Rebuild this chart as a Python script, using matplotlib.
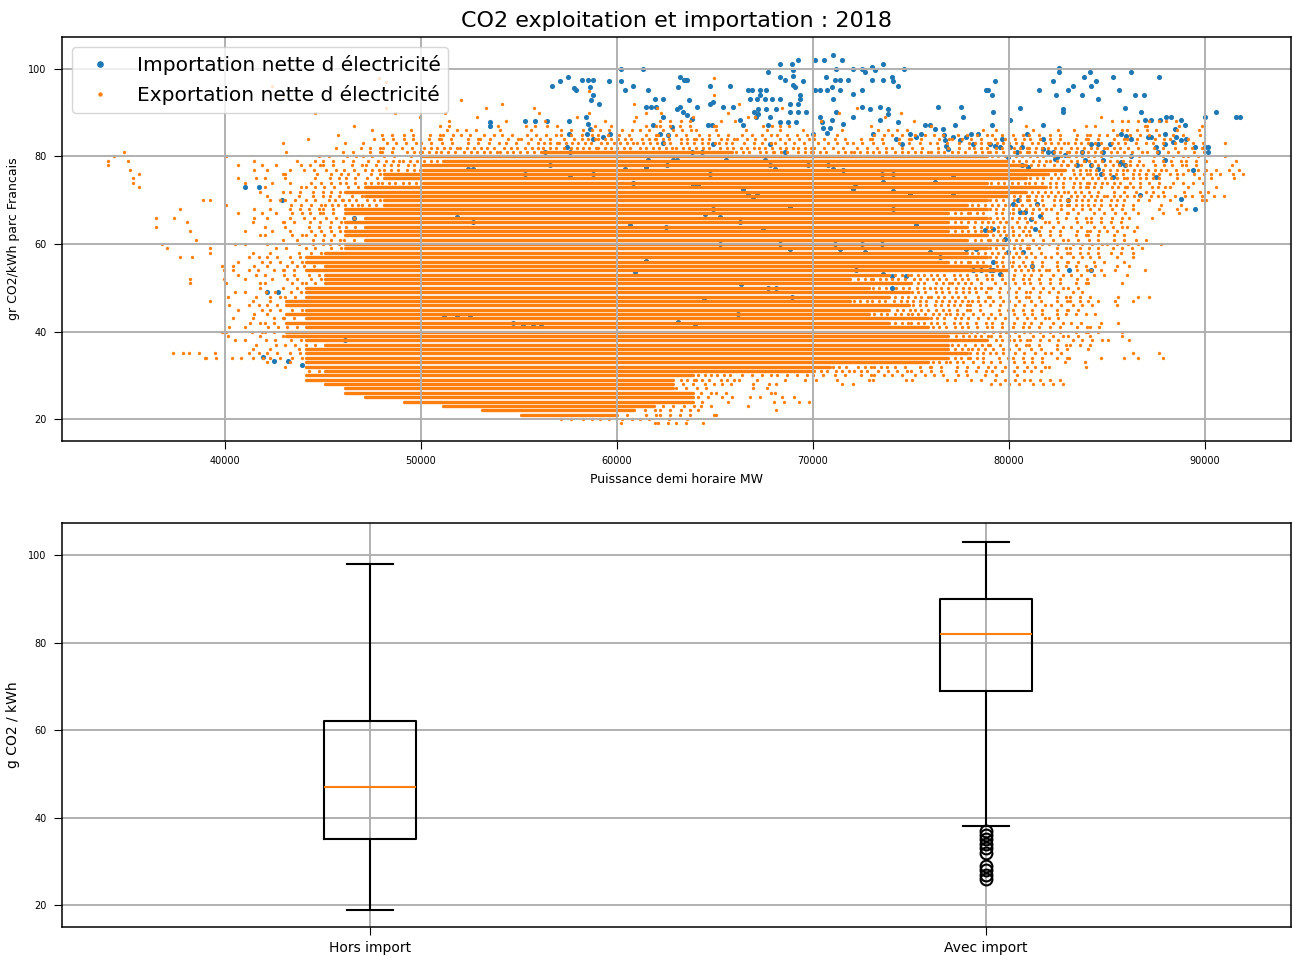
import matplotlib
matplotlib.use("Agg")
import matplotlib.pyplot as plt

C_IMP = "#1f77b4"
C_EXP = "#ff7f0e"

# orange cloud, read row by row: y -> "xk0-xk1:code" (x in thousands of MW)
# code = number of points per 1000 MW, "#" = continuous streak of points
ORANGE_ROWS = [
    (98, "47-48:1 64-65:1"),
    (97, "48-49:1"),
    (96, "42-43:1"),
    (95, "58-59:1"),
    (94, "42-43:1 64-65:1"),
    (93, "43-44:1 52-53:1"),
    (92, "54-55:1 60-61:1 66-67:1"),
    (91, "48-49:1 53-54:1 55-56:1 62-63:1 68-69:1 72-73:1"),
    (90, "44-45:1 48-49:1 51-52:1 56-57:1 58-59:1 61-63:1 65-66:1 71-72:1 74-75:1"),
    (89, "49-50:1 52-53:1 57-58:1 60-61:1 63-64:1 66-68:1 73-74:1 84-85:1"),
    (88, "51-52:1 54-55:1 56-57:1 59-61:1 62-64:2 65-67:1 70-71:1 75-76:1 85-89:2"),
    (87, "46-47:1 50-52:1 53-54:1 55-57:2 58-60:1 61-64:2 64-66:1 67-69:2 72-73:1 76-77:1 80-81:1 83-85:1 86-90:1"),
    (86, "47-48:1 49-50:1 51-53:2 54-56:1 57-64:2 64-70:1 71-72:1 73-75:2 78-80:1 81-84:1 85-88:2 88-90:1"),
    (85, "45-46:1 48-70:2 70-72:1 73-89:2 89-90:1"),
    (84, "44-45:1 47-48:1 48-58:2 58-66:3 66-88:2 88-90:1"),
    (83, "42-43:1 46-48:1 48-56:2 56-66:3 66-78:2 78-86:3 86-90:2 91-92:1"),
    (82, "45-47:1 47-50:2 50-70:3 70-78:2 78-86:3 86-90:2"),
    (81, "34-35:1 43-44:1 46-49:2 49-56:3 56-66:# 66-86:3 86-90:2"),
    (80, "34-35:1 40-41:1 44-46:1 46-50:2 50-79:# 79-85:3 85-90:2 91-92:1"),
    (79, "34-36:1 41-42:1 43-45:1 45-48:2 48-51:3 51-80:# 80-86:3 86-90:2 90-92:1"),
    (78, "34-35:1 40-44:1 44-48:2 48-50:3 50-81:# 81-87:3 87-90:2 91-92:1"),
    (77, "35-36:1 41-44:1 44-47:2 47-50:3 50-83:# 83-88:3 88-92:2"),
    (76, "35-36:1 42-45:1 45-48:2 48-82:# 82-89:3 89-92:2"),
    (75, "35-36:1 40-45:1 45-48:2 48-81:# 81-88:3 88-92:1"),
    (74, "35-36:1 41-44:1 44-47:2 47-50:3 50-79:# 79-86:3 86-90:2"),
    (73, "35-36:1 42-44:1 44-47:2 47-82:# 82-88:3 88-91:1"),
    (72, "41-43:1 43-46:2 46-81:# 81-84:3 84-88:2 88-91:1"),
    (71, "42-44:1 44-47:2 47-80:# 80-88:3 88-91:2"),
    (70, "38-40:1 42-45:2 45-48:3 48-79:# 79-86:3 86-91:1"),
    (69, "40-41:1 43-45:2 45-48:3 48-78:# 78-86:3 86-89:1"),
    (68, "37-38:1 41-43:1 43-46:2 46-79:# 79-82:3 82-86:2 86-90:1"),
    (67, "40-43:1 43-46:2 46-77:# 77-80:3 80-86:2 86-89:1"),
    (66, "36-38:1 41-44:1 44-47:2 47-79:# 79-81:3 81-86:2 86-88:1"),
    (65, "38-39:1 41-43:1 43-46:2 46-77:# 77-80:3 80-86:2"),
    (64, "36-37:1 42-44:1 44-47:2 47-78:# 78-81:3 81-87:2"),
    (63, "38-39:1 41-44:1 44-46:2 46-77:# 77-80:3 80-86:2 86-87:1"),
    (62, "41-43:1 43-46:2 46-79:# 79-81:3 81-86:2"),
    (61, "38-39:1 42-44:1 44-47:2 47-78:# 78-81:3 81-87:2"),
    (60, "36-37:1 40-44:1 44-46:2 46-80:# 80-82:3 82-87:2 87-88:1"),
    (59, "37-38:1 39-40:1 42-44:1 44-46:2 46-79:# 79-81:3 81-87:2"),
    (58, "39-40:1 41-44:1 44-45:2 45-78:# 78-81:3 81-86:2 86-87:1"),
    (57, "37-39:1 41-44:2 44-79:# 79-81:3 81-85:2 85-87:1"),
    (56, "40-42:1 42-44:2 44-77:# 77-80:3 80-85:2 85-86:1"),
    (55, "39-43:1 43-45:2 45-79:# 79-81:3 81-84:2 84-87:1"),
    (54, "39-41:1 41-44:2 44-80:# 80-82:3 82-85:2 85-87:1"),
    (53, "40-43:1 43-45:2 45-74:# 74-78:3 78-85:2 86-87:1"),
    (52, "38-40:1 41-43:1 43-45:2 45-72:# 72-78:3 78-84:2"),
    (51, "38-39:1 40-43:1 43-45:2 45-75:# 75-78:3 78-84:2 84-86:1"),
    (50, "41-44:1 44-73:# 73-79:3 79-84:2"),
    (49, "40-42:1 42-44:2 44-75:# 75-78:3 78-84:2"),
    (48, "40-42:1 42-44:2 44-74:# 74-78:3 78-84:2 84-88:1"),
    (47, "39-40:1 41-43:1 43-72:# 72-79:3 79-85:2 85-87:1"),
    (46, "40-41:1 41-43:2 43-75:# 75-78:3 78-84:2 84-86:1"),
    (45, "40-42:1 42-44:2 44-74:# 74-77:3 77-84:2"),
    (44, "41-43:1 43-73:# 73-78:3 78-84:2 84-85:1"),
    (43, "40-42:1 42-44:2 44-76:# 76-78:3 78-83:2"),
    (42, "41-43:2 43-74:# 74-78:3 78-84:2 84-86:1"),
    (41, "40-42:1 42-44:2 44-76:# 76-78:3 78-85:2"),
    (40, "39-41:1 41-43:2 43-78:# 78-80:3 80-85:2 85-86:1"),
    (39, "40-43:1 43-77:# 77-79:3 79-84:2 84-86:1"),
    (38, "40-42:1 42-44:2 44-79:# 79-81:3 81-85:2 85-87:1"),
    (37, "41-43:1 43-45:2 45-77:# 77-79:3 79-84:2 84-85:1"),
    (36, "41-44:1 44-77:# 77-79:3 79-83:2 84-85:1"),
    (35, "37-39:2 39-40:1 41-44:2 44-78:# 78-80:3 80-83:2 86-88:1"),
    (34, "38-39:1 39-44:2 44-77:# 77-79:3 79-83:2 83-88:1"),
    (33, "42-44:1 44-76:# 76-78:3 78-82:2 82-84:1"),
    (32, "43-44:1 44-71:# 71-74:3 74-82:2 82-84:1"),
    (31, "44-45:2 45-70:# 70-73:3 73-82:2"),
    (30, "44-64:# 64-66:3 66-78:2 78-81:1"),
    (29, "44-63:# 63-66:3 66-78:1 78-83:2"),
    (28, "45-63:# 63-66:2 66-69:1 71-73:1 79-83:2"),
    (27, "46-63:# 63-65:2 66-68:1"),
    (26, "46-64:# 64-66:2 67-69:1"),
    (25, "47-64:# 64-66:2 66-70:1"),
    (24, "49-64:# 64-66:1 68-70:2"),
    (23, "51-62:# 62-65:2 66-67:1"),
    (22, "53-61:# 61-64:2 64-65:1 68-69:1"),
    (21, "55-60:# 60-64:2 64-66:1"),
    (20, "57-62:2 62-64:1"),
    (19, "60-62:1 62-64:2 64-65:1"),
]

# net import half-hours (blue), (MW, g CO2/kWh)
BLUE_PTS = [
    (41030, 73.0), (41750, 73.0), (42900, 70.0), (46560, 65.9),
    (42140, 49.0), (42700, 49.0), (46130, 38.1),
    (41935, 34.3), (42480, 33.3), (43210, 33.3), (43920, 32.3),
    (51200, 43.9), (51820, 43.9), (52500, 43.9), (54700, 42.0), (55200, 41.2), (55700, 41.2), (56100, 41.2),
    (61500, 56.1), (60900, 53.6), (63100, 42.2),
    (56700, 96.0), (57120, 97.2), (57510, 98.2), (58200, 97.4), (58500, 97.4), (58800, 97.4),
    (57800, 95.7), (57900, 95.1), (58600, 95.9), (58800, 94.0), (59100, 92.1), (58700, 93.0),
    (59600, 97.3), (60230, 97.3), (60230, 100.1), (61340, 100.1), (60830, 96.0), (60400, 95.1), (61600, 95.1),
    (61930, 93.2), (62360, 93.2), (61500, 91.3), (61750, 91.3), (62000, 91.3), (63040, 90.9), (62360, 89.0),
    (61850, 87.1), (62190, 85.2), (62600, 84.8), (62800, 86.7), (63100, 95.9), (63040, 79.1), (62360, 83.1),
    (53520, 87.9), (53520, 86.9), (55300, 88.0), (55810, 88.0), (56410, 88.0), (57560, 88.1),
    (58400, 89.0), (58500, 87.5), (58600, 86.3), (58450, 85.2), (57560, 85.2), (58790, 84.1), (59300, 84.4),
    (59670, 85.2), (56320, 81.0), (57430, 82.2), (57600, 81.0), (56580, 78.0), (52400, 77.2), (52670, 77.2),
    (55300, 76.1), (58790, 76.1), (60400, 77.2), (60830, 74.0), (61500, 77.6), (61600, 79.1), (62530, 78.0),
    (62870, 79.1), (51820, 66.2), (52670, 65.0), (57600, 75.3), (60660, 64.3), (62500, 64.0),
    (63200, 98.2), (63470, 97.4), (64750, 96.0), (65760, 96.0), (66700, 95.1), (66870, 95.1), (67290, 95.1),
    (67630, 95.1), (66790, 93.2), (67170, 93.2), (67550, 93.2), (67930, 93.2), (68310, 93.2), (67300, 94.0),
    (67720, 99.2), (68310, 101.2), (68910, 101.2), (69250, 102.1), (68310, 98.2), (68570, 97.4), (68990, 99.7),
    (68990, 98.5), (69000, 96.3), (69080, 95.9), (69470, 97.3), (69330, 94.0), (69330, 93.2),
    (70100, 102.1), (70560, 102.1), (71030, 103.1), (71460, 102.1), (71200, 100.1), (70660, 98.2), (71120, 97.4),
    (71400, 97.4), (71800, 97.4), (70950, 95.9), (71380, 95.1), (70100, 95.3), (70350, 95.3), (70700, 95.3),
    (71000, 93.2), (72060, 100.1), (72480, 100.1), (72650, 99.3), (72990, 100.4), (73580, 101.2), (73160, 99.7),
    (72990, 97.4), (73580, 97.4), (74010, 98.2), (74100, 97.3), (74350, 96.0), (74640, 100.1), (72530, 95.1),
    (72060, 94.2), (67210, 90.9), (67630, 90.9), (66990, 90.2), (67120, 89.0), (67810, 89.0), (68140, 90.9),
    (68820, 92.1), (69250, 92.1), (68820, 90.2), (69250, 90.2), (69670, 90.2),
    (63400, 97.4), (63550, 97.4), (63200, 91.3), (63350, 90.2), (63550, 89.4), (63700, 92.8), (64060, 91.3),
    (64750, 92.1), (65420, 91.3), (65930, 91.3), (64910, 92.5), (63810, 88.6), (64660, 87.3), (64830, 87.3),
    (66270, 88.3), (66440, 87.1), (67210, 89.8), (67720, 87.1), (68310, 87.9), (68740, 87.9), (69160, 87.9),
    (70010, 85.2), (70350, 89.0), (70450, 87.8), (70520, 86.5), (70700, 85.3), (70850, 86.5), (70950, 88.3),
    (71200, 90.2), (71540, 87.5), (72060, 89.0), (72480, 91.3), (72900, 90.9), (73410, 91.3), (73840, 90.9),
    (73840, 89.8), (73070, 85.2), (73410, 88.3), (74350, 87.9), (74260, 84.1), (74570, 82.9),
    (76390, 91.3), (77580, 91.3), (77670, 89.0), (77240, 87.1), (75710, 87.1), (75970, 87.1), (76220, 86.3),
    (76640, 86.3), (76700, 85.0), (76750, 83.7), (76810, 82.4), (76900, 81.8), (77150, 84.4), (77490, 83.7),
    (77830, 84.4), (78090, 85.2), (78430, 85.2), (78180, 82.9), (78850, 95.1), (74940, 85.2), (75280, 84.4),
    (75540, 85.2), (64910, 82.9), (64320, 81.0), (63810, 81.0), (67810, 82.9), (68570, 81.0), (69760, 78.0),
    (70780, 78.0), (71030, 77.2), (71540, 76.8), (65590, 79.1), (64740, 76.1), (67550, 79.1), (67810, 78.0),
    (68060, 77.2), (73500, 76.1), (74100, 76.1), (73580, 74.2), (74100, 72.2), (72060, 72.6), (72140, 73.8),
    (74940, 71.5), (76220, 74.2), (77150, 75.3), (77150, 71.1), (78770, 63.1), (75280, 64.3), (74100, 68.1),
    (63890, 73.4), (64150, 73.4), (67130, 71.1), (66440, 72.6), (66700, 71.6), (66950, 70.7), (64490, 66.9),
    (64910, 68.1), (65260, 66.2), (66270, 65.0), (67470, 63.1), (68820, 68.5),
    (82550, 100.3), (82550, 99.3), (82260, 97.3), (83810, 98.2), (84150, 99.2), (84470, 97.3), (84210, 96.0),
    (85290, 98.2), (86220, 99.2), (87650, 98.2), (83025, 95.1), (83280, 96.0), (81550, 95.1), (82400, 94.1),
    (83710, 94.1), (84560, 93.1), (85610, 95.1), (86430, 94.1), (86900, 94.1), (85915, 91.1), (86765, 90.2),
    (79285, 97.3), (78950, 95.1), (79115, 94.0), (80560, 91.1), (82770, 90.9), (82770, 90.2), (79200, 90.2),
    (80050, 88.3), (79115, 87.1), (81750, 87.1), (80900, 85.2), (81750, 84.1), (79625, 84.1), (79030, 82.9),
    (79300, 82.5), (79540, 82.2), (80050, 82.2), (80390, 81.0), (80650, 82.2), (82000, 81.0), (82260, 81.0),
    (82430, 79.9), (83710, 81.0), (84215, 82.9), (84555, 82.9), (84810, 81.0), (85150, 82.9), (85740, 85.2),
    (86000, 84.6), (86250, 84.1), (87100, 84.4), (87270, 84.4), (86940, 88.3), (87275, 88.3), (87700, 88.3),
    (88040, 89.0), (88290, 89.0), (88800, 88.3), (88970, 87.1), (87950, 85.2), (88460, 86.3), (88550, 84.4),
    (88800, 83.7), (89060, 84.1), (87530, 82.2), (87620, 81.0), (87960, 82.9), (88380, 83.3), (89485, 82.2),
    (89995, 89.0), (90590, 90.2), (91610, 89.0), (91780, 89.0), (89995, 82.2), (90165, 82.2), (90165, 81.0),
    (83450, 78.0), (83880, 79.1), (84215, 78.0), (84810, 79.1), (84555, 77.2), (84725, 76.1), (85320, 75.3),
    (85745, 78.7), (85660, 78.3), (85915, 78.0), (86255, 80.2), (87955, 79.1), (87530, 75.3), (86680, 71.1),
    (88800, 70.3), (89395, 76.8), (89485, 68.1), (83025, 70.0), (80440, 70.0), (80220, 69.2), (81410, 69.2),
    (81150, 65.8), (81580, 66.5), (81330, 63.5), (79795, 61.2), (80560, 67.3), (80815, 67.3), (79200, 63.5),
    (80985, 77.6), (80645, 78.0), (81750, 81.8), (82345, 79.5), (82855, 80.3), (79965, 79.9),
    (79965, 58.2), (80730, 58.2), (79200, 55.9), (79030, 54.0), (79200, 54.0), (79540, 53.1), (81155, 54.9),
    (83075, 54.0), (84215, 54.0),
    (65250, 60.1), (68310, 60.1), (68820, 58.9), (71120, 60.1), (71380, 58.9), (72480, 60.1), (72650, 58.2),
    (73500, 60.1), (75960, 58.2), (76470, 57.0), (77830, 58.9), (78345, 58.9), (78175, 54.0), (78600, 54.0),
    (72190, 54.0), (73580, 53.2), (74010, 52.8), (74770, 52.8), (74010, 50.0), (66310, 50.9), (67720, 50.0),
    (68140, 50.0), (68910, 48.0), (64440, 47.1), (66190, 44.1), (63980, 41.2),
]

# box plot summaries (g CO2 / kWh)
BOX_LABELS = ["Hors import", "Avec import"]
BOX_WHISLO = [19, 38]
BOX_Q1 = [35, 69]
BOX_MED = [47, 82]
BOX_Q3 = [62, 90]
BOX_WHISHI = [98, 103]
BOX_FLIERS = [[], [37, 36, 35, 34, 33, 32, 29, 28, 27, 26]]


def parse_rows(rows):
    """Turn the row descriptions into dot positions and streak segments."""
    dx, dy, runs = [], [], []
    for y, spec in rows:
        for tok in spec.split():
            span, code = tok.split(":")
            a, b = (int(v) for v in span.split("-"))
            if code == "#":
                runs.append((y, a * 1000 + 120, b * 1000 - 120))
                continue
            n = int(code)
            for cell in range(a, b):
                # shift dots inside each cell so rows do not line up in columns
                phase = ((y * y * 7 + cell * cell * 3 + y * cell) % 11 + 0.5) / 11
                for i in range(n):
                    dx.append((cell + (i + phase) / n) * 1000)
                    dy.append(y)
    return dx, dy, runs


fig = plt.figure(figsize=(12.92, 9.56), dpi=100)
ax1 = fig.add_axes([0.048, 0.5387, 0.9513, 0.4226])
ax2 = fig.add_axes([0.048, 0.0303, 0.9513, 0.4226])

# ─── top: scatter ────────────────────────────────────────────────────────────
bx = [p[0] for p in BLUE_PTS]
by = [p[1] for p in BLUE_PTS]
ox, oy, runs = parse_rows(ORANGE_ROWS)

h_imp, = ax1.plot(bx, by, "o", color=C_IMP, ms=3.7, mew=0, zorder=1,
                  label="Importation nette d électricité")
h_exp, = ax1.plot(ox, oy, "o", color=C_EXP, ms=2.4, mew=0, zorder=1,
                  label="Exportation nette d électricité")
ax1.hlines([r[0] for r in runs], [r[1] for r in runs], [r[2] for r in runs],
           colors=C_EXP, lw=2.4, capstyle="round", zorder=1)

ax1.set_xlim(31684, 94400)
ax1.set_ylim(15, 107.3)
ax1.set_xticks([40000, 50000, 60000, 70000, 80000, 90000])
ax1.set_yticks([20, 40, 60, 80, 100])
ax1.grid(True, color="#b0b0b0", lw=1.4)
ax1.set_xlabel("Puissance demi horaire MW", fontsize=9, labelpad=5)
ax1.set_ylabel("gr CO2/kWh parc Francais", fontsize=9)
ax1.yaxis.set_label_coords(-0.034, 0.5)
ax1.set_title("CO2 exploitation et importation : 2018", fontsize=16, pad=7)
ax1.legend(handles=[h_imp, h_exp], loc="upper left", fontsize=14.5, markerscale=1.3)

# ─── bottom: box plots ───────────────────────────────────────────────────────
stats = []
for i in range(len(BOX_LABELS)):
    stats.append(dict(label=BOX_LABELS[i], whislo=BOX_WHISLO[i], q1=BOX_Q1[i],
                      med=BOX_MED[i], q3=BOX_Q3[i], whishi=BOX_WHISHI[i],
                      fliers=BOX_FLIERS[i]))
ax2.bxp(stats, widths=0.15,
        boxprops=dict(color="black", lw=1.5),
        whiskerprops=dict(color="black", lw=1.5),
        capprops=dict(color="black", lw=1.5),
        medianprops=dict(color=C_EXP, lw=1.5),
        flierprops=dict(marker="o", mfc="none", mec="black", ms=8.5, mew=1.5))
ax2.set_xlim(0.5, 2.495)
ax2.set_ylim(15, 107.3)
ax2.set_yticks([20, 40, 60, 80, 100])
ax2.grid(True, color="#b0b0b0", lw=1.4)
ax2.set_ylabel("g CO2 / kWh", fontsize=10)
ax2.yaxis.set_label_coords(-0.034, 0.5)

for ax in (ax1, ax2):
    ax.tick_params(labelsize=7, length=6, width=0.8, pad=5)
    for s in ax.spines.values():
        s.set_linewidth(1.1)
ax2.tick_params(axis="x", labelsize=10, pad=4)

fig.savefig("out.png", dpi=100)
